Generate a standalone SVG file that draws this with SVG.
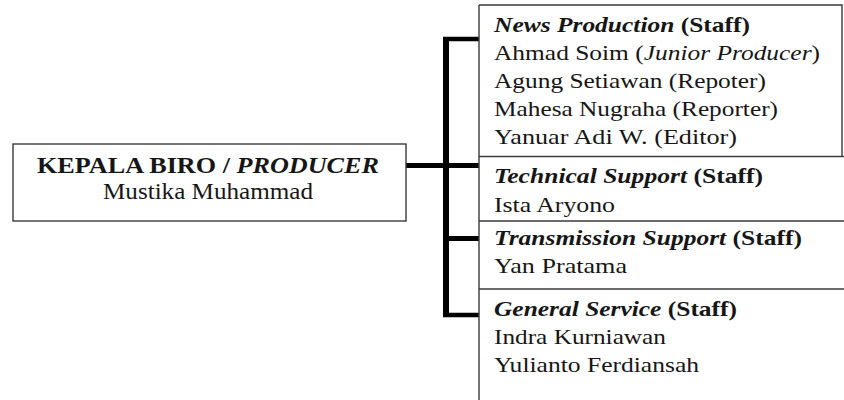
<svg xmlns="http://www.w3.org/2000/svg" width="844" height="400" viewBox="0 0 844 400">
<style>
.t{font-family:"Liberation Serif","Times New Roman",serif;font-size:22px;fill:#161616}
.tl{font-size:23px}
.b{font-weight:bold}
.i{font-style:italic}
.box{fill:none;stroke:#3a3a3a;stroke-width:1.4}
.con{stroke:#000;fill:none}
</style>
<rect width="844" height="400" fill="#fff"/>
<g id="connectors">
<line class="con" x1="446" y1="37" x2="446" y2="317" stroke-width="6"/>
<line class="con" x1="443" y1="39" x2="479" y2="39" stroke-width="4.5"/>
<line class="con" x1="406" y1="165.5" x2="479" y2="165.5" stroke-width="5"/>
<line class="con" x1="443" y1="238.5" x2="479" y2="238.5" stroke-width="5"/>
<line class="con" x1="443" y1="315" x2="479" y2="315" stroke-width="4.5"/>
</g>
<g id="producer">
<rect class="box" x="13" y="144" width="393" height="77"/>
<text class="t tl b" x="208" y="173" text-anchor="middle" textLength="342" lengthAdjust="spacingAndGlyphs">KEPALA BIRO / <tspan class="i">PRODUCER</tspan></text>
<text class="t tl" x="208" y="199" text-anchor="middle" textLength="210" lengthAdjust="spacingAndGlyphs">Mustika Muhammad</text>
</g>
<g id="staff-frame">
<path class="box" d="M479,5 H842 V156.5 M479,5 V400 M479,156.5 H844 M479,221 H844 M479,289 H844"/>
</g>
<g id="news-production">
<text class="t" x="494" y="32" textLength="256" lengthAdjust="spacingAndGlyphs"><tspan class="b i">News Production</tspan><tspan class="b"> (Staff)</tspan></text>
<text class="t" x="494" y="60" textLength="326" lengthAdjust="spacingAndGlyphs">Ahmad Soim (<tspan class="i">Junior Producer</tspan>)</text>
<text class="t" x="494" y="88" textLength="272" lengthAdjust="spacingAndGlyphs">Agung Setiawan (Repoter)</text>
<text class="t" x="494" y="116" textLength="284" lengthAdjust="spacingAndGlyphs">Mahesa Nugraha (Reporter)</text>
<text class="t" x="494" y="144" textLength="243" lengthAdjust="spacingAndGlyphs">Yanuar Adi W. (Editor)</text>
</g>
<g id="technical-support">
<text class="t" x="494" y="183" textLength="269" lengthAdjust="spacingAndGlyphs"><tspan class="b i">Technical Support</tspan><tspan class="b"> (Staff)</tspan></text>
<text class="t" x="494" y="212" textLength="121" lengthAdjust="spacingAndGlyphs">Ista Aryono</text>
</g>
<g id="transmission-support">
<text class="t" x="494" y="245" textLength="308" lengthAdjust="spacingAndGlyphs"><tspan class="b i">Transmission Support</tspan><tspan class="b"> (Staff)</tspan></text>
<text class="t" x="494" y="273" textLength="133" lengthAdjust="spacingAndGlyphs">Yan Pratama</text>
</g>
<g id="general-service">
<text class="t" x="494" y="316" textLength="243" lengthAdjust="spacingAndGlyphs"><tspan class="b i">General Service</tspan><tspan class="b"> (Staff)</tspan></text>
<text class="t" x="494" y="344" textLength="172" lengthAdjust="spacingAndGlyphs">Indra Kurniawan</text>
<text class="t" x="494" y="372" textLength="205" lengthAdjust="spacingAndGlyphs">Yulianto Ferdiansah</text>
</g>
</svg>
